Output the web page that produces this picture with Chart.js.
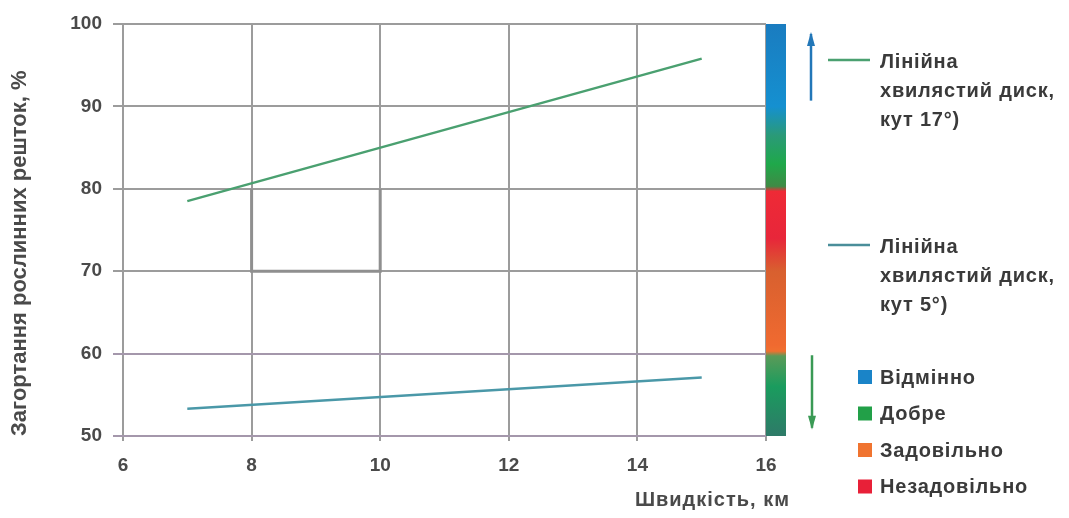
<!DOCTYPE html>
<html><head><meta charset="utf-8">
<script src="https://cdn.jsdelivr.net/npm/chart.js@4.4.0/dist/chart.umd.min.js"></script>
<style>html,body{margin:0;padding:0;background:#fff;}canvas{display:block;}</style>
</head><body>
<canvas id="c" width="1069" height="518"></canvas>
<script>
// ---- data ----
const xTicks = [6, 8, 10, 12, 14, 16];
const yTicks = [50, 60, 70, 80, 90, 100];
const line17X = [7, 15];
const line17Y = [78.5, 95.8];
const line5X = [7, 15];
const line5Y = [53.3, 57.1];
const boxX = [8, 8, 10, 10];
const boxY = [80, 70, 70, 80];
const series1Label = ['Лінійна', 'хвилястий диск,', 'кут 17°)'];
const series2Label = ['Лінійна', 'хвилястий диск,', 'кут 5°)'];
const ratingLabels = ['Відмінно', 'Добре', 'Задовільно', 'Незадовільно'];
const ratingColors = ['#1a84c8', '#22a048', '#f07430', '#e82038'];
const barStopValues = [100, 90, 86.5, 83, 80.3, 79.7, 74, 70, 61, 60.3, 59.7, 56, 50];
const barStopColors = ['#1a7cc0', '#1590d0', '#2a9a78', '#1fa84a', '#3f8a45', '#ee2a36', '#e8263a', '#d8602f', '#f06a30', '#f07030', '#5a9a58', '#1a9c5e', '#2e7a68'];
const upArrowY = [90.7, 98.8];
const downArrowY = [59.8, 51];
const xTitle = 'Швидкість, км';
const yTitle = 'Загортання рослинних решток, %';

const toPts = (xs, ys) => xs.map((x, i) => ({x, y: ys[i]}));
const FONT = '"Liberation Sans", Arial, sans-serif';
const TXT = '#4a4a4a';

const extras = {
  id: 'extras',
  beforeDatasetsDraw(chart) {
    const {ctx, scales: {x, y}} = chart;
    const bx = x.getPixelForValue(16), bt = y.getPixelForValue(100), bb = y.getPixelForValue(50);
    const g = ctx.createLinearGradient(0, bt, 0, bb);
    barStopValues.forEach((v, i) => g.addColorStop((100 - v) / 50, barStopColors[i]));
    ctx.save();
    ctx.fillStyle = g;
    ctx.fillRect(bx, bt, 20, bb - bt);
    ctx.restore();
  },
  afterDraw(chart) {
    const {ctx, scales: {x, y}} = chart;
    ctx.save();
    const drawArrow = (ax, y1, y2, color) => {
      const p1 = y.getPixelForValue(y1), p2 = y.getPixelForValue(y2);
      ctx.strokeStyle = color; ctx.fillStyle = color; ctx.lineWidth = 2.5;
      ctx.beginPath(); ctx.moveTo(ax, p1); ctx.lineTo(ax, p2); ctx.stroke();
      const d = p2 < p1 ? -1 : 1;
      ctx.beginPath(); ctx.moveTo(ax, p2 + d * 2); ctx.lineTo(ax - 4, p2 - d * 12); ctx.lineTo(ax + 4, p2 - d * 12); ctx.closePath(); ctx.fill();
    };
    drawArrow(811, upArrowY[0], upArrowY[1], '#2277b8');
    drawArrow(812, downArrowY[0], downArrowY[1], '#3a9a55');
    ctx.font = 'bold 20px ' + FONT;
    ctx.letterSpacing = '0.8px';
    ctx.textBaseline = 'middle';
    ctx.textAlign = 'left';
    const drawSeriesLegend = (ly, color, lines) => {
      ctx.strokeStyle = color; ctx.lineWidth = 2.5;
      ctx.beginPath(); ctx.moveTo(828, ly); ctx.lineTo(870, ly); ctx.stroke();
      ctx.fillStyle = '#3a3a3a';
      lines.forEach((t, i) => ctx.fillText(t, 880, ly + 2 + i * 29));
    };
    drawSeriesLegend(60, '#4aa070', series1Label);
    drawSeriesLegend(245, '#4a8e9a', series2Label);
    ratingLabels.forEach((t, i) => {
      const cy = 377 + i * 36.5;
      ctx.fillStyle = ratingColors[i];
      ctx.fillRect(858, cy - 7, 14, 14);
      ctx.fillStyle = '#3a3a3a';
      ctx.fillText(t, 880, cy + 1);
    });
    ctx.font = 'bold 20px ' + FONT;
    ctx.letterSpacing = '1px';
    ctx.fillStyle = TXT;
    ctx.textAlign = 'right';
    ctx.fillText(xTitle, 790, 500);
    ctx.restore();
  }
};

new Chart(document.getElementById('c'), {
  type: 'scatter',
  data: {
    datasets: [
      {data: toPts(boxX, boxY), showLine: true, borderColor: '#8f8f8f', borderWidth: 3, pointRadius: 0, fill: false},
      {data: toPts(line17X, line17Y), showLine: true, borderColor: '#4aa070', borderWidth: 2.5, pointRadius: 0},
      {data: toPts(line5X, line5Y), showLine: true, borderColor: '#4a98a8', borderWidth: 2.5, pointRadius: 0}
    ]
  },
  options: {
    responsive: false,
    animation: false,
    devicePixelRatio: 1,
    layout: {padding: {left: 0, top: 24, right: 303, bottom: 0}},
    plugins: {legend: {display: false}, tooltip: {enabled: false}},
    scales: {
      x: {
        type: 'linear', min: 6, max: 16,
        afterBuildTicks: s => { s.ticks = xTicks.map(v => ({value: v})); },
        afterFit: s => { s.height = 82; },
        border: {display: false},
        grid: {color: '#9c9c9c', lineWidth: 2, tickLength: 5},
        ticks: {padding: 13, color: TXT, font: {family: FONT, size: 19, weight: 'bold'}}
      },
      y: {
        type: 'linear', min: 50, max: 100,
        afterBuildTicks: s => { s.ticks = yTicks.map(v => ({value: v})); },
        afterFit: s => { s.width = 123; },
        border: {display: false},
        grid: {color: c => (c.tick && c.tick.value <= 60) ? '#a497ab' : '#9c9c9c', lineWidth: 2, tickLength: 10},
        ticks: {padding: 11, color: TXT, font: {family: FONT, size: 19, weight: 'bold'}},
        title: {display: true, text: yTitle, align: 'start', color: TXT, font: {family: FONT, size: 22, weight: 'bold'}, padding: {top: 7, bottom: 0}}
      }
    }
  },
  plugins: [extras]
});
</script>
</body></html>
